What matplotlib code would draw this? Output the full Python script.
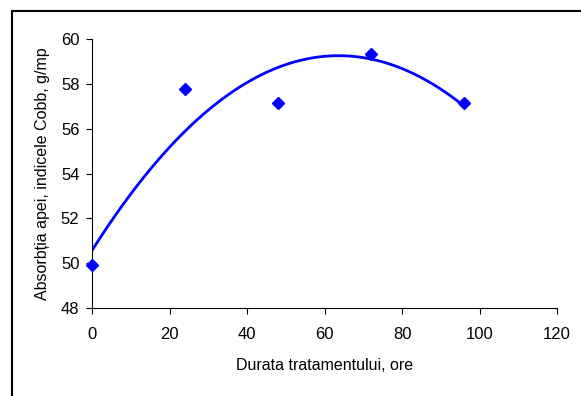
import numpy as np
import matplotlib.pyplot as plt
from matplotlib.patches import Rectangle

plt.rcParams['font.family'] = ['Liberation Sans', 'DejaVu Sans']

# Measured water absorption (Cobb) vs treatment time
ore = [0, 24, 48, 72, 96]
cobb = [49.9, 57.75, 57.15, 59.35, 57.15]

x_ticks = [0, 20, 40, 60, 80, 100, 120]
y_ticks = [48, 50, 52, 54, 56, 58, 60]

fig = plt.figure(figsize=(5.81, 3.96), dpi=100)
ax = fig.add_axes([92 / 581, 88 / 396, 465 / 581, 269 / 396])

# chart frame (only top and left edges visible)
fig.patches.append(Rectangle((11.5 / 581, -0.1), 1.2, (396 - 10.5) / 396 + 0.1,
                             transform=fig.transFigure, fill=False,
                             edgecolor='black', linewidth=1.5))

# 2nd order polynomial trendline
coef = np.polyfit(ore, cobb, 2)
xs = np.linspace(min(ore), max(ore), 200)
ax.plot(xs, np.polyval(coef, xs), color='#0000ff', linewidth=2.0, zorder=2)
ax.plot(ore, cobb, linestyle='none', marker='D', markersize=6,
        color='#0000ff', clip_on=False, zorder=3)

ax.set_xlim(0, 120)
ax.set_ylim(48, 60)
ax.set_xticks(x_ticks)
ax.set_yticks(y_ticks)
ax.tick_params(direction='out', length=4, width=0.8, labelsize=12)
ax.tick_params(axis='x', pad=10)
ax.tick_params(axis='y', pad=5)
for s in ['top', 'right']:
    ax.spines[s].set_visible(False)
for s in ['left', 'bottom']:
    ax.spines[s].set_linewidth(0.8)

ax.set_xlabel('Durata tratamentului, ore', fontsize=11.5, labelpad=11)
ax.set_ylabel('Absorbția apei, indicele Cobb, g/mp', fontsize=11.5, labelpad=8)

fig.savefig('out.png', dpi=100)
